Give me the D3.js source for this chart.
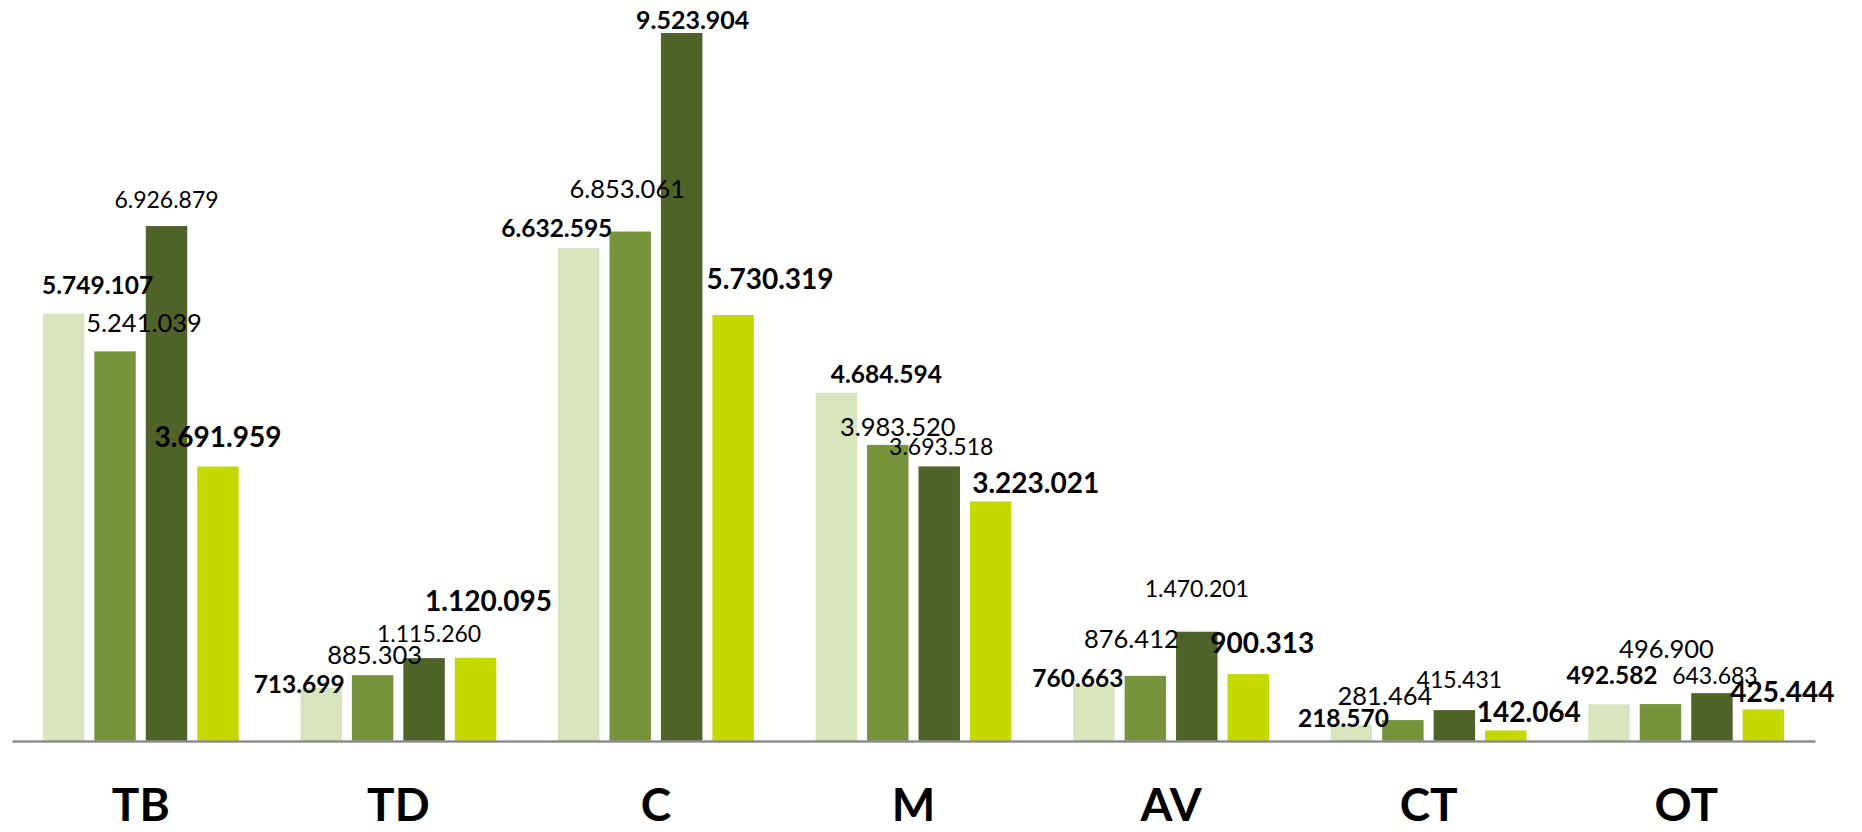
<!DOCTYPE html>
<html>
<head>
<meta charset="utf-8">
<script src="https://cdn.jsdelivr.net/npm/d3@7"></script>
<style>
    body { margin: 0; background: #fff; }
    svg { display: block; font-family: Lato, "Open Sans", sans-serif; }
    .cat-axis text { font-size: 46px; font-weight: 700; fill: #000; }
</style>
</head>
<body>
<svg width="1862" height="832"></svg>
<script>
// chart values
const categories = ["TB", "TD", "C", "M", "AV", "CT", "OT"];
const seriesA = [5749107, 713699, 6632595, 4684594, 760663, 218570, 492582];
const seriesB = [5241039, 885303, 6853061, 3983520, 876412, 281464, 496900];
const seriesC = [6926879, 1115260, 9523904, 3693518, 1470201, 415431, 643683];
const seriesD = [3691959, 1120095, 5730319, 3223021, 900313, 142064, 425444];

// label nudges [dx, dy] from bar top-centre (labels were dragged by hand in the original)
const nudgeA = [[34, -20], [-22, 5], [-22, -11], [50, -10], [-16, 3], [-8, 2], [3, -20]];
const nudgeB = [[29, -19], [2, -11], [-3, -34], [10, -9], [-14, -28], [-18, -15], [6, -46]];
const nudgeC = [[0, -18], [5, -16], [11, -4], [2, -11], [0, -35], [5, -22], [3, -9]];
const nudgeD = [[0, -20], [13, -47], [37, -26], [45, -8], [14, -21], [23, -8], [19, -7]];

const series = [
    { values: seriesA, nudge: nudgeA, color: "#d7e4bd", size: 24.5, weight: 700 },
    { values: seriesB, nudge: nudgeB, color: "#77933c", size: 25.5, weight: 400 },
    { values: seriesC, nudge: nudgeC, color: "#4f6228", size: 23, weight: 400 },
    { values: seriesD, nudge: nudgeD, color: "#c3d900", size: 28, weight: 700 }
];

const baseline = 741;

const svg = d3.select("svg");

const x0 = d3.scaleBand()
    .domain(categories)
    .range([12, 1815])
    .padding(0);

const x1 = d3.scaleBand()
    .domain(d3.range(series.length))
    .range([0, x0.bandwidth()])
    .paddingInner(0.194)
    .paddingOuter(0.6);

const yMax = d3.max(series, s => d3.max(s.values));
const y = d3.scaleLinear()
    .domain([0, yMax])
    .range([baseline, 33]);

const fmt = d3.formatLocale({ decimal: ",", thousands: ".", grouping: [3], currency: ["", ""] }).format(",d");

// bars
const groups = svg.selectAll("g.grp")
    .data(categories)
    .enter()
    .append("g")
    .attr("class", "grp")
    .attr("transform", d => "translate(" + x0(d) + ",0)");

series.forEach(function (s, si) {
    groups.append("rect")
        .attr("x", x1(si))
        .attr("width", x1.bandwidth())
        .attr("y", (d, i) => y(s.values[i]))
        .attr("height", (d, i) => baseline - y(s.values[i]))
        .attr("fill", s.color);
});

// axis line + category labels (kept just inside the bottom edge)
svg.append("g")
    .attr("class", "cat-axis")
    .attr("transform", "translate(0," + baseline + ")")
    .call(d3.axisBottom(x0).tickSize(0).tickSizeOuter(0).tickPadding(47))
    .call(g => g.select(".domain").attr("stroke", "#8e8e8e").attr("stroke-width", 2.5))
    .call(g => g.selectAll("text").attr("font-family", "Lato, 'Open Sans', sans-serif"));

// value labels
series.forEach(function (s, si) {
    groups.append("text")
        .attr("text-anchor", "middle")
        .attr("x", (d, i) => x1(si) + x1.bandwidth() / 2 + s.nudge[i][0])
        .attr("y", (d, i) => y(s.values[i]) + s.nudge[i][1])
        .attr("font-size", (d, i) => (si === 2 && i === 2) ? 25 : s.size)
        .attr("font-weight", (d, i) => (si === 2 && i === 2) ? 700 : s.weight)
        .attr("fill", "#000")
        .text((d, i) => fmt(s.values[i]));
});
</script>
</body>
</html>
